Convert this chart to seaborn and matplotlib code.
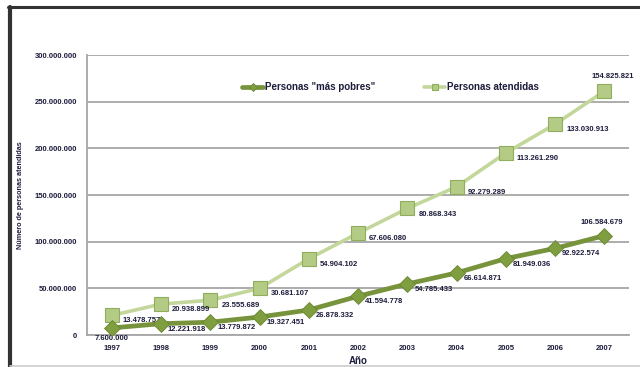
import numpy as np
import pandas as pd
import seaborn as sns
import matplotlib.pyplot as plt
from matplotlib.lines import Line2D

years = ['1997', '1998', '1999', '2000', '2001', '2002', '2003', '2004', '2005', '2006', '2007']
mas_pobres = [7600000, 12221918, 13779872, 19327451, 26878332, 41594778,
              54785433, 66614871, 81949036, 92922574, 106584679]
atendidas = [13478757, 20938899, 23555689, 30681107, 54904102, 67606080,
             80868343, 92279289, 113261290, 133030913, 154825821]
y_ticks = [0, 50000000, 100000000, 150000000, 200000000, 250000000, 300000000]


def fmt(v):
    return f'{v:,}'.replace(',', '.')


sns.set_style('white')
plt.rcParams['font.family'] = ['Liberation Sans', 'DejaVu Sans']
plt.rcParams['font.weight'] = 'bold'

txt_col = '#1c1c3c'
dark_green = '#77933C'
light_green = '#C4D79B'

df = pd.DataFrame({'x': np.arange(len(years)),
                   'pobres': mas_pobres,
                   # excel stacked line: second series drawn on top of first
                   'atendidas': np.array(mas_pobres) + np.array(atendidas)})

fig = plt.figure(figsize=(6.4, 3.67), dpi=100)
ax = fig.add_axes([0.136, 0.087, 0.847, 0.763])

sns.lineplot(data=df, x='x', y='atendidas', ax=ax, color=light_green, lw=2.6,
             marker='s', markersize=10, markerfacecolor='#B3CB85',
             markeredgecolor='#8FAE5C', markeredgewidth=0.8,
             label='Personas atendidas', zorder=3)
sns.lineplot(data=df, x='x', y='pobres', ax=ax, color=dark_green, lw=3.4,
             marker='D', markersize=8.5, markerfacecolor='#7E9E40',
             markeredgecolor='#6A8733', markeredgewidth=0.6,
             label='Personas "más pobres"', zorder=4)

# data labels
for i, v in enumerate(mas_pobres):
    if i == 0:
        off, ha, va = (0, -5), 'center', 'top'
    elif i == len(years) - 1:
        off, ha, va = (-2, 7), 'center', 'bottom'
    else:
        off, ha, va = (5, -4), 'left', 'center'
    ax.annotate(fmt(v), (i, v), xytext=off, textcoords='offset points',
                ha=ha, va=va, fontsize=5.5, color=txt_col, fontweight='bold')

for i, v in enumerate(atendidas):
    y = df['atendidas'][i]
    if i == len(years) - 1:
        off, ha, va = (6, 8), 'center', 'bottom'
    else:
        off, ha, va = (8, -4), 'left', 'center'
    ax.annotate(fmt(v), (i, y), xytext=off, textcoords='offset points',
                ha=ha, va=va, fontsize=5.5, color=txt_col, fontweight='bold',
                annotation_clip=False)

ax.set_xlim(-0.5, len(years) - 0.5)
ax.set_ylim(0, 300000000)
ax.set_xticks(range(len(years)))
ax.set_xticklabels(years)
ax.set_yticks(y_ticks)
ax.set_yticklabels([fmt(t) for t in y_ticks])
ax.tick_params(axis='both', length=0, labelsize=5.5, colors=txt_col)
ax.tick_params(axis='x', pad=7)
ax.tick_params(axis='y', pad=7)
ax.yaxis.grid(True, color='#a6a6a6', lw=1.3)
ax.set_axisbelow(True)
for s in ['top', 'right']:
    ax.spines[s].set_visible(False)
for s in ['left', 'bottom']:
    ax.spines[s].set_color('#a6a6a6')
    ax.spines[s].set_linewidth(1.3)

ax.set_xlabel('Año', fontsize=7, fontweight='bold', color=txt_col, labelpad=3)
ax.set_ylabel('Número de personas atendidas', fontsize=5.2, fontweight='bold',
              color=txt_col, labelpad=8)

handles, labels = ax.get_legend_handles_labels()
ax.legend(handles[::-1], labels[::-1], ncol=2, frameon=False, fontsize=7,
          loc='center', bbox_to_anchor=(0.56, 0.886), markerscale=0.45,
          handlelength=2.2, columnspacing=5, handletextpad=0.2,
          labelcolor=txt_col)

# outer frame from the original screenshot
fig.add_artist(Line2D([0.015, 0.015], [0.0, 0.982], color='#333333', lw=3,
                      transform=fig.transFigure))
fig.add_artist(Line2D([0.013, 1.0], [0.982, 0.982], color='#333333', lw=2.2,
                      transform=fig.transFigure))
fig.add_artist(Line2D([0.015, 1.0], [0.004, 0.004], color='#cccccc', lw=1.2,
                      transform=fig.transFigure))

fig.savefig('out.png', dpi=100)
